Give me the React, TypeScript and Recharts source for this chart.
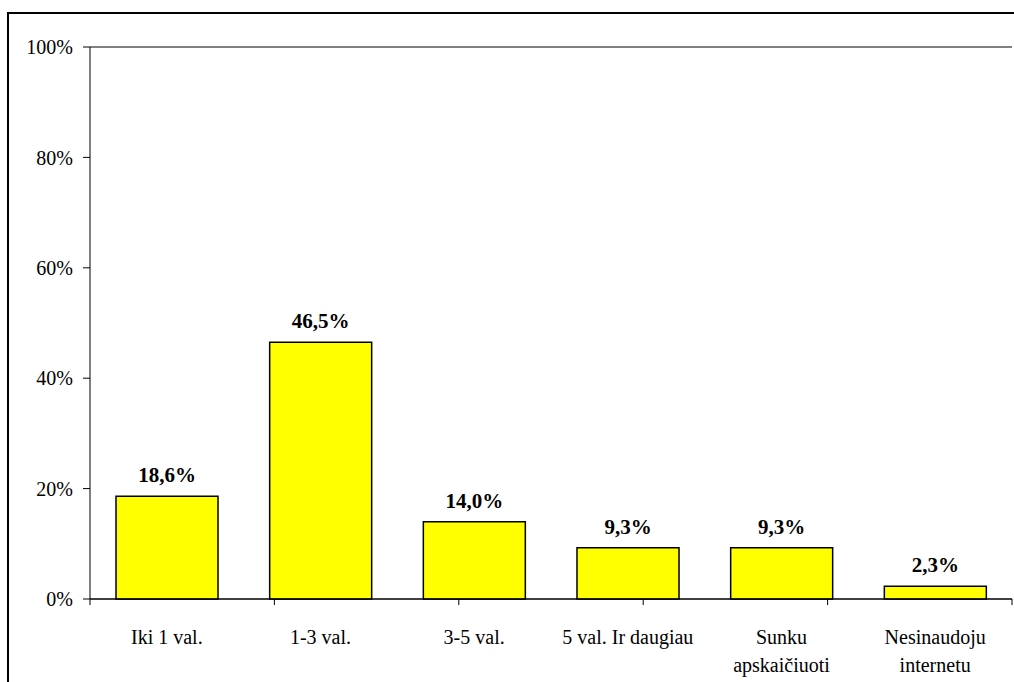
import React from "react";
import { ComposedChart, Bar, XAxis, YAxis, CartesianGrid, LabelList, ReferenceLine } from "recharts";

const categories = ["Iki 1 val.", "1-3 val.", "3-5 val.", "5 val. Ir daugiau", "Sunku\napskaičiuoti", "Nesinaudoju\ninternetu"];
const values = [18.6, 46.5, 14.0, 9.3, 9.3, 2.3];
const yTicks = [0, 20, 40, 60, 80, 100];
const boundaryTicks = [0, 1, 2, 3, 4, 5, 6];

const data = categories.map((c, i) => ({ name: c, value: values[i] }));

const FONT = "Liberation Serif";

const CatTick = (props: any) => {
  const { x, y, payload } = props;
  const lines = String(payload.value).split("\n");
  return (
    <g>
      {lines.map((l: string, i: number) => (
        <text key={i} x={x} y={y + 37 + i * 28} textAnchor="middle" style={{ fontFamily: FONT, fontSize: 20 }} fill="#000">
          {l}
        </text>
      ))}
    </g>
  );
};

const fmt = (v: number) => v.toFixed(1).replace(".", ",") + "%";

export default function App() {
  return (
    <div style={{ position: "fixed", left: 0, top: 0, width: 1014, height: 682, overflow: "hidden", background: "#fff", fontFamily: FONT }}>
      <div style={{ position: "absolute", left: 7, top: 12, width: 1100, height: 800, borderLeft: "2px solid #000", borderTop: "2px solid #000" }} />
      <div style={{ position: "absolute", left: 0, top: 0 }}>
        <ComposedChart width={1014} height={682} data={data} margin={{ top: 47, right: 2, bottom: 23, left: 30 }}>
          <CartesianGrid vertical={false} stroke="#000" strokeWidth={1} />
          <XAxis xAxisId="b" type="number" domain={[0, 6]} ticks={boundaryTicks} height={0} hide />
          <XAxis xAxisId="c" dataKey="name" height={60} axisLine={{ stroke: "#000" }} tickLine={false} tick={<CatTick />} interval={0} />
          <YAxis yAxisId="l" domain={[0, 100]} ticks={yTicks} width={60} axisLine={{ stroke: "#000" }} tickLine={{ stroke: "#000" }} tickSize={7} tickMargin={10} tickFormatter={(v: number) => `${v}%`} tick={{ fontFamily: FONT, fontSize: 20, fill: "#000" }} />
          <ReferenceLine yAxisId="l" xAxisId="c" y={100} stroke="#808080" strokeWidth={2} />
          <ReferenceLine yAxisId="l" xAxisId="b" x={6} stroke="#808080" strokeWidth={2} />
          {boundaryTicks.map((t) => (
            <ReferenceLine key={t} yAxisId="l" xAxisId="b" segment={[{ x: t, y: 0 }, { x: t, y: -1.1 }]} stroke="#000" ifOverflow="visible" />
          ))}
          <Bar xAxisId="c" yAxisId="l" dataKey="value" fill="#FFFF00" stroke="#000" strokeWidth={1.5} barSize={102} isAnimationActive={false}>
            <LabelList dataKey="value" position="top" offset={14} formatter={(v: any) => fmt(Number(v))} style={{ fontFamily: FONT, fontSize: 21, fontWeight: "bold", fill: "#000" }} />
          </Bar>
        </ComposedChart>
      </div>
    </div>
  );
}
